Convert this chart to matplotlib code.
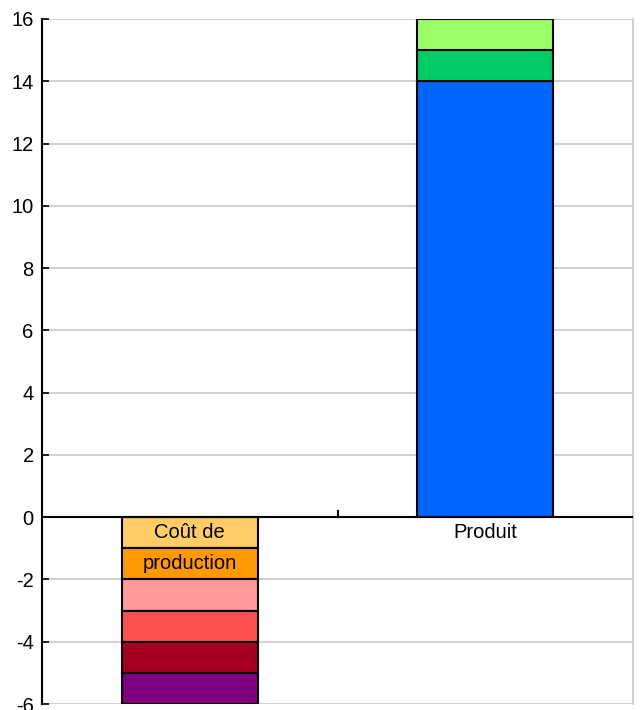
import matplotlib
matplotlib.use("Agg")
import matplotlib.pyplot as plt
import numpy as np

plt.rcParams['font.family'] = ['Liberation Sans', 'DejaVu Sans']

categories = ["Coût de\nproduction", "Produit"]
# segments for cost (negative, stacked downward from 0)
cost_values = [-1, -1, -1, -1, -1, -1]
cost_colors = ["#FFCC66", "#FF9900", "#FF9999", "#FF5050", "#A50021", "#800080"]
# segments for product (positive)
prod_values = [14, 1, 1]
prod_colors = ["#0066FF", "#00CC66", "#99FF66"]
yticks = list(range(-6, 17, 2))

fig = plt.figure(figsize=(6.41, 7.10), dpi=100)
ax = fig.add_axes([42/641, 1 - 704/710, (633-42)/641, (704-19)/710])

width = 0.46
bottom = 0
for v, c in zip(cost_values, cost_colors):
    ax.bar(0, v, width, bottom=bottom, color=c, edgecolor="black", linewidth=1.5, zorder=3)
    bottom += v
bottom = 0
for v, c in zip(prod_values, prod_colors):
    ax.bar(1, v, width, bottom=bottom, color=c, edgecolor="black", linewidth=1.5, zorder=3)
    bottom += v

ax.set_xlim(-0.5, 1.5)
ax.set_ylim(-6, 16)
ax.set_yticks(yticks)
ax.set_yticklabels([str(t) for t in yticks], fontsize=14.5)
ax.yaxis.grid(True, color="#C8C8C8", linewidth=1.2, zorder=0)
ax.set_axisbelow(True)
ax.tick_params(axis="y", direction="in", length=5, width=1.2, pad=6)
ax.set_xticks([])

for s in ["top", "right", "bottom"]:
    ax.spines[s].set_visible(False)
ax.spines["left"].set_linewidth(1.5)
ax.plot([1.5, 1.5], [-6, 16], color="#C8C8C8", linewidth=1.2, clip_on=False, zorder=1)

# zero axis line and category separator tick
ax.axhline(0, color="black", linewidth=1.5, zorder=4)
ax.plot([0.5, 0.5], [0, 0.2], color="black", linewidth=1.5, zorder=4)

for i, lab in enumerate(categories):
    ax.text(i, -0.2, lab, ha="center", va="top", fontsize=14.5, linespacing=1.75, zorder=5)

fig.savefig("out.png", dpi=100)
